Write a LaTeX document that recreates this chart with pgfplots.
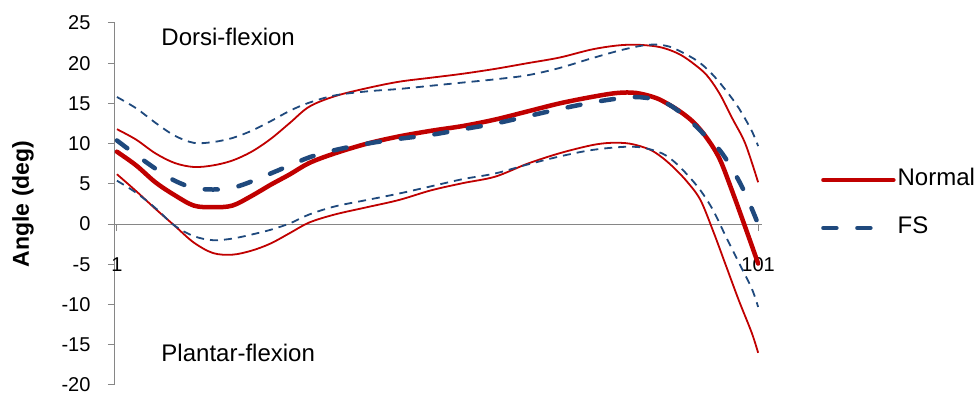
\documentclass[border=0pt]{standalone}
\usepackage{fontspec}
\setmainfont{Liberation Sans}
\usepackage{pgfplots}
\pgfplotsset{compat=1.18}

\definecolor{normred}{HTML}{C00000}
\definecolor{fsblue}{HTML}{1F497D}
\definecolor{axgray}{HTML}{868686}

% legend samples: full-length line, and a shorter one showing two dashes
\pgfplotsset{
  long legend line/.style={legend image code/.code={\draw[##1] (0pt,0pt) -- (70pt,0pt);}},
  short legend line/.style={legend image code/.code={\draw[##1] (0pt,0pt) -- (55pt,0pt);}},
}

\begin{document}
\begin{tikzpicture}
\begin{axis}[
  width=647pt, height=362pt, scale only axis,
  xmin=0.7, xmax=101.6,
  ymin=-20, ymax=25,
  axis x line*=middle, axis y line*=left,
  hide obscured x ticks=false,
  axis line style={axgray, line width=1pt},
  xtick={1,101}, ytick={-20,-15,...,25},
  tick style={axgray, line width=1pt},
  tick align=outside,
  major tick length=7pt,
  /pgf/number format/assume math mode=true,
  tick label style={font=\fontsize{20}{24}\selectfont},
  yticklabel style={xshift=-14pt},
  xticklabel style={anchor=north, yshift=-23pt},
  ylabel={Angle (deg)},
  ylabel style={font=\fontsize{23}{27}\selectfont\bfseries,
    at={(axis description cs:-0.1422,0.5)}, anchor=center, rotate=0},
  long legend line,
  legend cell align=left,
  legend style={draw=none, fill=none, at={(1,0.5)}, anchor=west, xshift=56pt,
    font=\fontsize{24}{28}\selectfont, row sep=22pt,
    nodes={inner sep=2pt, text height=17pt, text depth=5pt}},
  every axis plot/.append style={smooth, tension=0.55},
  clip=false,
]
% Normal mean
\addplot[normred, line width=4.5pt, line cap=round] coordinates {
 (1,9.0) (4,7.3) (7,5.2) (10,3.6) (13,2.3) (16,2.1) (19,2.3) (22,3.5) (25,4.9)
 (28,6.2) (31,7.6) (35,8.8) (40,10.0) (45,10.9) (50,11.6) (55,12.2) (60,13.0)
 (65,14.0) (70,15.0) (75,15.8) (79,16.3) (82,16.3) (85,15.7) (87,14.9) (89,13.9)
 (91,12.6) (93,10.7) (95,8.1) (97,4.0) (99,-0.4) (101,-4.9)};
\addlegendentry{Normal}
% FS mean
\addplot[fsblue, line width=4.5pt, line cap=round, dash pattern=on 13pt off 21pt,
  short legend line] coordinates {
 (1,10.4) (4,8.6) (7,6.9) (10,5.4) (13,4.5) (16,4.3) (19,4.5) (22,5.3) (25,6.3)
 (28,7.3) (31,8.3) (35,9.2) (40,10.0) (45,10.6) (50,11.1) (55,11.8) (60,12.5)
 (65,13.4) (70,14.3) (75,15.1) (79,15.6) (82,15.8) (85,15.5) (87,14.9) (89,13.8)
 (91,12.4) (93,10.8) (95,9.2) (97,6.8) (99,3.8) (101,0.0)};
\addlegendentry{FS}
% Normal +/- SD
\addplot[normred, line width=1.8pt, forget plot] coordinates {
 (1,11.8) (4,10.5) (7,8.8) (10,7.6) (13,7.1) (16,7.3) (19,7.9) (22,9.0) (25,10.6)
 (28,12.6) (31,14.6) (35,15.9) (40,16.9) (45,17.7) (50,18.2) (55,18.7) (60,19.3)
 (65,20.0) (70,20.7) (75,21.7) (79,22.2) (82,22.3) (85,22.1) (87,21.7) (89,21.0)
 (91,19.9) (93,18.5) (95,16.2) (97,13.1) (99,10.0) (101,5.2)};
\addplot[normred, line width=1.8pt, forget plot] coordinates {
 (1,6.2) (4,4.1) (7,1.9) (10,-0.2) (13,-2.3) (16,-3.6) (19,-3.8) (22,-3.3) (25,-2.4)
 (28,-1.1) (31,0.2) (35,1.2) (40,2.1) (45,3.0) (50,4.2) (55,5.1) (60,5.9)
 (65,7.5) (70,8.8) (75,9.8) (78,10.1) (81,10.0) (84,9.3) (86,8.3) (88,6.9)
 (90,5.2) (92,3.0) (94,-0.9) (96,-5.2) (98,-9.5) (100,-13.5) (101,-16.0)};
% FS +/- SD
\addplot[fsblue, line width=1.8pt, dash pattern=on 8pt off 6pt, forget plot] coordinates {
 (1,15.8) (4,14.4) (7,12.6) (10,11.0) (13,10.1) (16,10.2) (19,10.7) (22,11.6) (25,12.8)
 (28,14.1) (31,15.1) (35,16.0) (40,16.5) (45,16.8) (50,17.2) (55,17.6) (60,18.0)
 (65,18.5) (70,19.4) (75,20.6) (80,21.7) (84,22.3) (87,22.1) (90,21.0) (92,20.0)
 (94,18.5) (96,16.6) (98,14.4) (100,11.6) (101,9.7)};
\addplot[fsblue, line width=1.8pt, dash pattern=on 8pt off 6pt, forget plot] coordinates {
 (1,5.4) (4,3.9) (7,2.0) (10,-0.2) (13,-1.5) (16,-2.0) (19,-1.8) (22,-1.3) (25,-0.7)
 (28,0.1) (31,1.2) (35,2.2) (40,3.0) (45,3.8) (50,4.7) (55,5.6) (60,6.3)
 (65,7.4) (70,8.4) (75,9.2) (80,9.6) (83,9.5) (86,8.8) (88,7.7) (90,6.1)
 (92,4.2) (94,1.7) (96,-1.6) (98,-4.8) (100,-8.0) (101,-10.3)};
% Region annotations
\node[anchor=west, font=\fontsize{24}{28}\selectfont] at (axis cs:7.4,23.3) {Dorsi-flexion};
\node[anchor=west, font=\fontsize{24}{28}\selectfont] at (axis cs:7.4,-16.0) {Plantar-flexion};
\end{axis}
\path ([xshift=-115pt,yshift=-9pt]current axis.south west)
  rectangle ([xshift=218pt,yshift=23pt]current axis.north east);
\end{tikzpicture}
\end{document}
